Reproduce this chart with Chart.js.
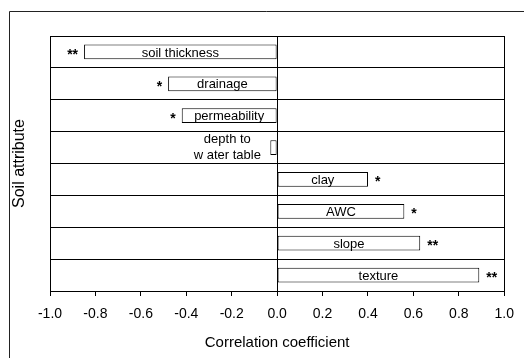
<!DOCTYPE html>
<html>
<head>
<meta charset="utf-8">
<script src="https://cdn.jsdelivr.net/npm/chart.js@4"></script>
<style>
  html, body { margin: 0; padding: 0; background: #fff; }
  canvas { display: block; }
</style>
</head>
<body>
<canvas id="chart" width="524" height="358"></canvas>
<script>
// Soil attributes (top to bottom) and correlation coefficients
const attributes = ['soil thickness', 'drainage', 'permeability', ['depth to', 'w ater table'], 'clay', 'AWC', 'slope', 'texture'];
const coefficients = [-0.85, -0.48, -0.42, -0.03, 0.40, 0.56, 0.63, 0.89];
const significance = ['**', '*', '*', '', '*', '*', '**', '**'];
const xTicks = [-1.0, -0.8, -0.6, -0.4, -0.2, 0.0, 0.2, 0.4, 0.6, 0.8, 1.0];

const FONT = "'Liberation Sans', Arial, sans-serif";

// Outer frame (top and left lines)
const framePlugin = {
    id: 'frame',
    beforeDraw(chart) {
        const ctx = chart.ctx;
        ctx.save();
        ctx.strokeStyle = '#222';
        ctx.lineWidth = 1;
        ctx.beginPath();
        ctx.moveTo(9.5, 358);
        ctx.lineTo(9.5, 11.5);
        ctx.lineTo(524, 11.5);
        ctx.stroke();
        ctx.restore();
    }
};

// Labels inside the bars and significance stars at the bar ends
const barLabels = {
    id: 'barLabels',
    afterDatasetsDraw(chart) {
        const ctx = chart.ctx;
        const meta = chart.getDatasetMeta(0);
        ctx.save();
        ctx.fillStyle = '#000';
        meta.data.forEach((bar, i) => {
            const lbl = attributes[i];
            const left = Math.min(bar.x, bar.base);
            const right = Math.max(bar.x, bar.base);
            ctx.font = '13px ' + FONT;
            ctx.textBaseline = 'middle';
            ctx.textAlign = 'center';
            if (Array.isArray(lbl)) {
                const cx = left - 43;
                lbl.forEach((line, k) => {
                    ctx.fillText(line, cx, bar.y + (k - (lbl.length - 1) / 2) * 16);
                });
            } else {
                ctx.fillText(lbl, (left + right) / 2, bar.y + 1);
            }
            const s = significance[i];
            if (s) {
                ctx.font = 'bold 14px ' + FONT;
                if (coefficients[i] < 0) {
                    ctx.textAlign = 'right';
                    ctx.fillText(s, left - 6, bar.y + 3);
                } else {
                    ctx.textAlign = 'left';
                    ctx.fillText(s, right + 7, bar.y + 3);
                }
            }
        });
        ctx.restore();
    }
};

new Chart(document.getElementById('chart'), {
    type: 'bar',
    data: {
        labels: attributes,
        datasets: [{
            data: coefficients,
            backgroundColor: '#fff',
            borderColor: '#000',
            borderWidth: 1,
            borderSkipped: false,
            categoryPercentage: 1,
            barPercentage: 0.46
        }]
    },
    options: {
        indexAxis: 'y',
        responsive: false,
        devicePixelRatio: 1,
        animation: false,
        layout: { padding: { top: 36, right: 15, left: 0, bottom: 0 } },
        plugins: {
            legend: { display: false },
            tooltip: { enabled: false }
        },
        scales: {
            x: {
                min: -1,
                max: 1,
                afterBuildTicks: s => { s.ticks = xTicks.map(v => ({ value: v })); },
                afterFit: s => { s.height = 67; },
                ticks: {
                    color: '#000',
                    font: { family: FONT, size: 14 },
                    padding: 10,
                    callback: v => v.toFixed(1)
                },
                grid: {
                    color: c => (c.tick && (Math.abs(c.tick.value) < 1e-9 || Math.abs(Math.abs(c.tick.value) - 1) < 1e-9)) ? '#000' : 'rgba(0,0,0,0)',
                    tickColor: '#000',
                    tickLength: 5,
                    lineWidth: 1
                },
                border: { display: true, color: '#000' },
                title: {
                    display: true,
                    text: 'Correlation coefficient',
                    color: '#000',
                    font: { family: FONT, size: 15 },
                    padding: { top: 0, bottom: 6 }
                }
            },
            y: {
                offset: true,
                afterFit: s => { s.width = 50; },
                ticks: { display: false },
                grid: {
                    offset: true,
                    color: '#000',
                    drawTicks: false,
                    lineWidth: 1
                },
                border: { display: true, color: '#000' },
                title: {
                    display: true,
                    text: 'Soil attribute',
                    color: '#000',
                    font: { family: FONT, size: 16 },
                    padding: { top: 10, bottom: 0 }
                }
            }
        }
    },
    plugins: [framePlugin, barLabels]
});
</script>
</body>
</html>
